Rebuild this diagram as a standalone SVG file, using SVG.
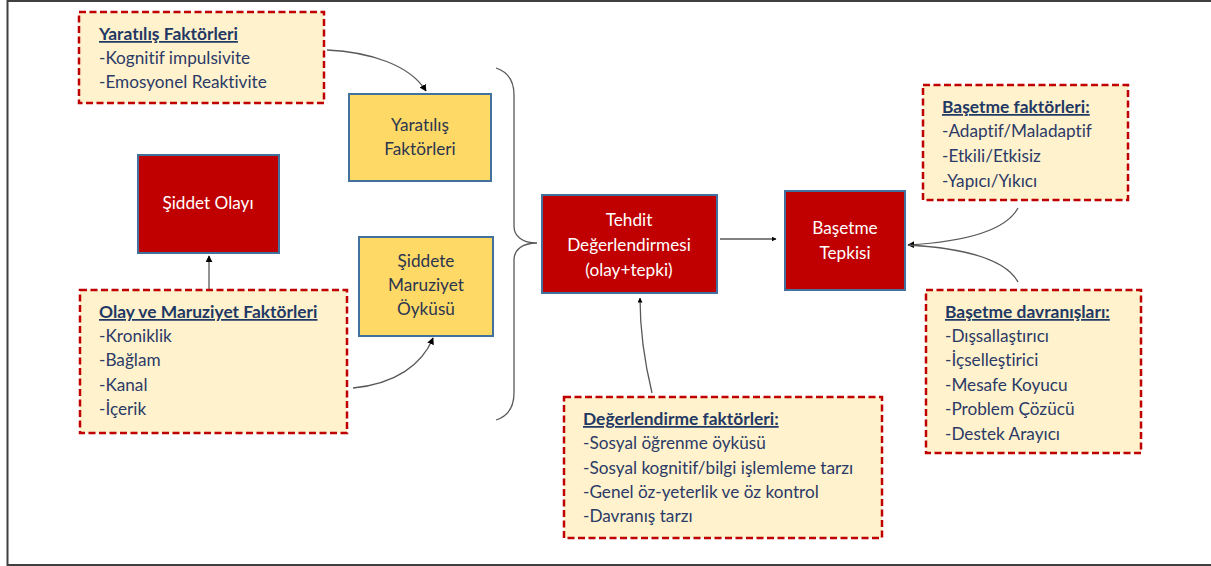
<svg xmlns="http://www.w3.org/2000/svg" width="1211" height="566" viewBox="0 0 1211 566">
<defs>
<marker id="ah" viewBox="0 0 10 10" refX="9" refY="5" markerWidth="7" markerHeight="7" orient="auto" markerUnits="userSpaceOnUse">
<path d="M0,0 L10,5 L0,10 z" fill="#000"/>
</marker>
<marker id="ahs" viewBox="0 0 10 10" refX="9" refY="5" markerWidth="5" markerHeight="5" orient="auto" markerUnits="userSpaceOnUse">
<path d="M0,0 L10,5 L0,10 z" fill="#000"/>
</marker>
</defs>
<style>
.dash{fill:#FFF2CC;stroke:#C00000;stroke-width:2.5;stroke-dasharray:7,3.5}
.yel{fill:#FFD966;stroke:#41719C;stroke-width:2}
.red{fill:#C00000;stroke:#41719C;stroke-width:2}
text{font-family:Lato,"Open Sans","Liberation Sans",sans-serif;font-size:17.2px;font-variant-ligatures:none}
.ttl{fill:#1F3864;font-weight:bold;text-decoration:underline;font-size:17.4px}
.bd{fill:#2B3A67}
.yt{fill:#2B3550;text-anchor:middle}
.wt{fill:#fff;text-anchor:middle}
.con{fill:none;stroke:#595959;stroke-width:1.3}
</style>
<rect x="7.5" y="1" width="1220" height="564" fill="#fff" stroke="#404040" stroke-width="2"/>
<g id="connectors">
<path class="con" d="M327,50 C370,52 410,65 426,91" marker-end="url(#ah)"/>
<path class="con" d="M209,290 L209,256" marker-end="url(#ah)"/>
<path class="con" d="M353,388 C395,384 422,365 433,338" marker-end="url(#ah)"/>
<path class="con" stroke="#8c8c8c" d="M496,68 C508,72 514,80 514,95 L514,226 C514,236 522,243 537,243 C522,243 514,250 514,260 L514,393 C514,408 508,416 496,420"/>
<path class="con" stroke="#8c8c8c" d="M720,239 L776,239" marker-end="url(#ahs)"/>
<path class="con" d="M652,393 C644,360 640,330 640,298" marker-end="url(#ahs)"/>
<path class="con" stroke="#7f7f7f" d="M1018,208 C1005,232 960,242 908,245" marker-end="url(#ah)"/>
<path class="con" stroke="#7f7f7f" d="M1018,282 C1005,258 960,248 908,245"/>
</g>
<g id="yaratilis-factors">
<rect class="dash" x="79" y="12" width="245" height="91"/>
<text class="ttl" x="99" y="40">Yaratılış Faktörleri</text>
<text class="bd" x="99" y="64">-Kognitif impulsivite</text>
<text class="bd" x="99" y="88">-Emosyonel Reaktivite</text>
</g>
<g id="yaratilis-box">
<rect class="yel" x="349" y="94" width="142" height="87"/>
<text class="yt" x="420" y="131">Yaratılış</text>
<text class="yt" x="420" y="155">Faktörleri</text>
</g>
<g id="siddet-olayi">
<rect class="red" x="138" y="155" width="141" height="98"/>
<text class="wt" x="208" y="209">Şiddet Olayı</text>
</g>
<g id="olay-maruziyet">
<rect class="dash" x="80" y="290" width="267" height="143"/>
<text class="ttl" x="99" y="318">Olay ve Maruziyet Faktörleri</text>
<text class="bd" x="99" y="342">-Kroniklik</text>
<text class="bd" x="99" y="366">-Bağlam</text>
<text class="bd" x="99" y="391">-Kanal</text>
<text class="bd" x="99" y="415">-İçerik</text>
</g>
<g id="siddete-maruziyet">
<rect class="yel" x="359" y="237" width="134" height="99"/>
<text class="yt" x="426" y="267">Şiddete</text>
<text class="yt" x="426" y="291">Maruziyet</text>
<text class="yt" x="426" y="315">Öyküsü</text>
</g>
<g id="tehdit">
<rect class="red" x="542" y="195" width="175" height="98"/>
<text class="wt" x="629" y="226">Tehdit</text>
<text class="wt" x="629" y="251">Değerlendirmesi</text>
<text class="wt" x="629" y="276">(olay+tepki)</text>
</g>
<g id="basetme-tepkisi">
<rect class="red" x="785" y="191" width="120" height="99"/>
<text class="wt" x="845" y="234">Başetme</text>
<text class="wt" x="845" y="259">Tepkisi</text>
</g>
<g id="basetme-faktorleri">
<rect class="dash" x="923" y="85" width="205" height="115"/>
<text class="ttl" x="942" y="113">Başetme faktörleri:</text>
<text class="bd" x="942" y="137">-Adaptif/Maladaptif</text>
<text class="bd" x="942" y="162">-Etkili/Etkisiz</text>
<text class="bd" x="942" y="187">-Yapıcı/Yıkıcı</text>
</g>
<g id="basetme-davranislari">
<rect class="dash" x="926" y="290" width="215" height="163"/>
<text class="ttl" x="945" y="318">Başetme davranışları:</text>
<text class="bd" x="945" y="342">-Dışsallaştırıcı</text>
<text class="bd" x="945" y="366">-İçselleştirici</text>
<text class="bd" x="945" y="391">-Mesafe Koyucu</text>
<text class="bd" x="945" y="415">-Problem Çözücü</text>
<text class="bd" x="945" y="440">-Destek Arayıcı</text>
</g>
<g id="degerlendirme-faktorleri">
<rect class="dash" x="564" y="397" width="318" height="141"/>
<text class="ttl" x="583" y="425">Değerlendirme faktörleri:</text>
<text class="bd" x="583" y="449">-Sosyal öğrenme öyküsü</text>
<text class="bd" x="583" y="474">-Sosyal kognitif/bilgi işlemleme tarzı</text>
<text class="bd" x="583" y="498">-Genel öz-yeterlik ve öz kontrol</text>
<text class="bd" x="583" y="522">-Davranış tarzı</text>
</g>
</svg>
